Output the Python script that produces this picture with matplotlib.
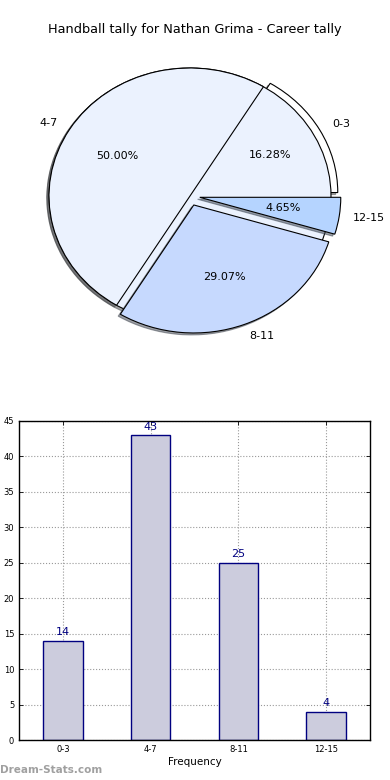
import matplotlib
matplotlib.use("Agg")
import matplotlib.pyplot as plt
import matplotlib.patches as mpatches
import numpy as np

title = "Handball tally for Nathan Grima - Career tally"
categories = ["0-3", "4-7", "8-11", "12-15"]
counts = [14, 43, 25, 4]
pie_colors = ["#ffffff", "#ebf2fe", "#c6d9fe", "#b5d4ff"]
explode = [0.055, 0.0, 0.075, 0.07]
bg_color = "#ebf2fe"

W, H = 390, 780
fig = plt.figure(figsize=(W / 100, H / 100), dpi=100)
fig.text(0.5, 1 - 30 / H, title, ha="center", va="center", fontsize=9.3)

# pie: drawn stretched (not equal aspect), centre at (190, 196) px, radii 141 x 128 px
ax1 = fig.add_axes([0, 0.5, 1, 0.5])
cx, cy, rx, ry = 190, 196, 141, 128
wedges, texts, autotexts = ax1.pie(
    counts,
    labels=categories,
    colors=pie_colors,
    explode=explode,
    autopct="%.2f%%",
    startangle=0,
    wedgeprops={"edgecolor": "black", "linewidth": 0.8},
    textprops={"fontsize": 8},
)
ax1.set_aspect("auto")
ax1.set_xlim(-cx / rx, (W - cx) / rx)
ax1.set_ylim(-(390 - cy) / ry, cy / ry)

# light disc behind the wedges; the exploded 0-3 wedge sits under it
disc = mpatches.Ellipse((0, 0), 2, 2, facecolor=bg_color, edgecolor="black",
                        linewidth=0.8, zorder=1.0)
ax1.add_patch(disc)
ax1.add_patch(mpatches.Shadow(disc, -0.011, -0.011, zorder=0.95))
wedges[0].set_zorder(0.6)
ax1.add_patch(mpatches.Shadow(wedges[0], -0.011, -0.011, zorder=0.55))
for w in wedges[1:]:
    w.set_zorder(1.2)
    ax1.add_patch(mpatches.Shadow(w, -0.011, -0.011, zorder=1.1))
for t in texts + autotexts:
    t.set_zorder(3)

# bar chart
ax2 = fig.add_axes([19 / W, 40 / H, 351 / W, 319 / H])
x = np.arange(len(categories))
bars = ax2.bar(x, counts, width=0.45, color="#ccccdd", edgecolor="navy",
               linewidth=1.0, zorder=2)
for xi, v in zip(x, counts):
    ax2.text(xi, v + 0.5, str(v), ha="center", va="bottom", color="navy",
             fontsize=8, zorder=3)
ax2.set_xlim(-0.5, 3.5)
ax2.set_ylim(0, 45)
ax2.set_yticks(np.arange(0, 46, 5))
ax2.set_xticks(x)
ax2.set_xticklabels(categories)
ax2.tick_params(axis="both", labelsize=6, direction="in", top=True, right=True,
                length=3, width=0.6)
ax2.grid(True, linestyle=":", color="#999999", linewidth=0.8, zorder=0)
ax2.set_axisbelow(True)
ax2.set_xlabel("Frequency", fontsize=7.5, labelpad=2)
for s in ax2.spines.values():
    s.set_linewidth(1.0)

fig.text(0 / W, 1 - 770 / H, "Dream-Stats.com", ha="left", va="center",
         fontsize=7.5, color="#a0a0a0", fontweight="bold")

fig.savefig("out.png", dpi=100)
